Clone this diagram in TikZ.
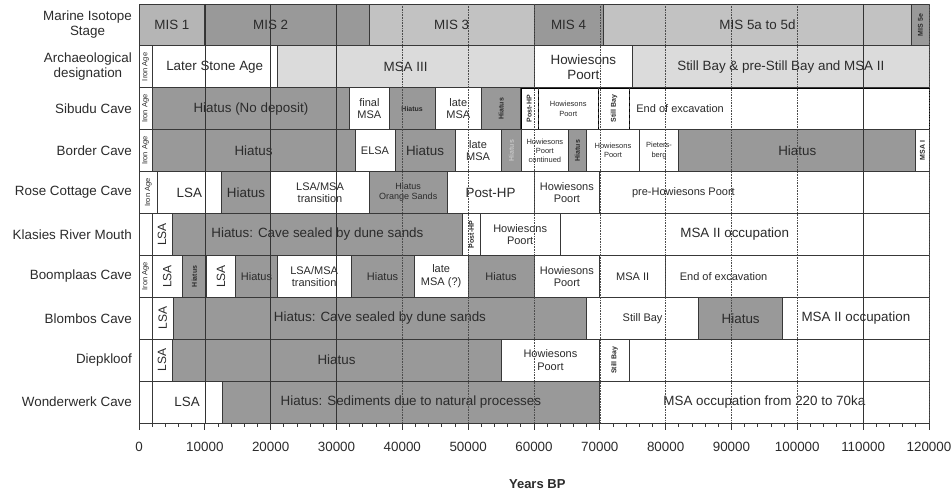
\documentclass[tikz,border=0pt]{standalone}
\usepackage{fontspec}
\setmainfont{Liberation Sans}
\usepackage{xcolor}
\usepackage{tikz}

\definecolor{txt}{gray}{0.17}
\definecolor{brd}{gray}{0.22}
\definecolor{hia}{gray}{0.6}
\definecolor{misA}{gray}{0.71}
\definecolor{misB}{gray}{0.6}
\definecolor{misC}{gray}{0.76}
\definecolor{arch}{gray}{0.86}

\begin{document}
\begin{tikzpicture}[x=6.583pt, y=-41.9pt,
    every node/.style={text=txt, inner sep=1pt, align=center},
    wcell/.style={draw=brd, line width=0.8pt, fill=white},
    hcell/.style={wcell, fill=hia},
    mis1/.style={wcell, fill=misA},
    mis2/.style={wcell, fill=misB},
    mis3/.style={wcell, fill=misC},
    acell/.style={wcell, fill=arch},
    ocell/.style={fill=white},
    lg/.style={font=\fontsize{13.4}{15}\selectfont},
    md/.style={font=\fontsize{11}{12.5}\selectfont},
    sm/.style={font=\fontsize{9}{10}\selectfont},
    xs/.style={font=\fontsize{7.5}{9.3}\selectfont},
    xb/.style={font=\fontsize{7}{7.5}\selectfont\bfseries},
    ri/.style={rotate=90, font=\fontsize{7.5}{8}\selectfont},
    rb/.style={rotate=90, xb},
    rg/.style={rb, text=gray!45},
    rl/.style={rotate=90, font=\fontsize{12}{13}\selectfont},
    rowlab/.style={lg, anchor=east, inner sep=0pt}]
    \useasboundingbox (-139pt,4pt) rectangle (812pt,-491pt);

    \foreach \r/\a/\b/\f/\s/\lab [count=\i] in {
        0/0/10/mis1/lg/{MIS 1}, 0/10/30/mis2/lg/{MIS 2}, 0/30/35/mis2/lg/{},
        0/35/60/mis3/lg/{MIS 3}, 0/60/70.5/mis2/lg/{MIS 4},
        0/70.5/117.4/mis3/lg/{MIS 5a to 5d}, 0/117.4/120/mis2/rb/{MIS 5e},
        1/0/2/wcell/ri/{Iron Age}, 1/2/21/wcell/lg/{Later Stone Age},
        1/21/60/acell/lg/{MSA III}, 1/60/75/wcell/lg/{Howiesons\\Poort},
        1/75/120/acell/lg/{Still Bay \& pre-Still Bay and MSA II},
        2/0/2/wcell/ri/{Iron Age}, 2/2/32/hcell/lg/{Hiatus (No deposit)},
        2/32/38/wcell/md/{final\\MSA}, 2/38/45/hcell/xb/{Hiatus},
        2/45/52/wcell/md/{late\\MSA}, 2/52/58/hcell/rb/{Hiatus},
        2/58/60.6/ocell/rb/{Post-HP}, 2/60.6/69.8/ocell/xs/{Howiesons\\Poort},
        2/69.8/74.5/ocell/rb/{Still Bay}, 2/74.5/120/ocell/md/{},
        3/0/2/wcell/ri/{Iron Age}, 3/2/32.8/hcell/lg/{Hiatus},
        3/32.8/38.9/wcell/md/{ELSA}, 3/38.9/48/hcell/lg/{Hiatus},
        3/48/55/wcell/md/{late\\MSA}, 3/55/58.1/hcell/rg/{Hiatus},
        3/58.1/65.2/wcell/xs/{Howiesons\\Poort\\continued},
        3/65.2/68/hcell/rb/{Hiatus}, 3/68/76/wcell/xs/{Howiesons\\Poort},
        3/76/82/wcell/xs/{Pieters-\\berg}, 3/82/118/hcell/lg/{Hiatus},
        3/118/120/wcell/rb/{MSA I},
        4/0/2.8/wcell/ri/{Iron Age}, 4/2.8/12.5/wcell/lg/{LSA},
        4/12.5/20/hcell/lg/{Hiatus}, 4/20/35/wcell/md/{LSA/MSA\\transition},
        4/35/46.8/hcell/sm/{Hiatus\\Orange Sands}, 4/46.8/60/wcell/lg/{Post-HP},
        4/60/70/wcell/md/{Howiesons\\Poort}, 4/70/120/wcell/md/{},
        5/0/2/wcell/lg/{}, 5/2/5/wcell/rl/{LSA},
        5/5/49.2/hcell/lg/{Hiatus: Cave sealed by dune sands},
        5/49.2/51.8/wcell/rb/{Post-HP}, 5/51.8/64/wcell/md/{Howiesons\\Poort},
        5/64/120/wcell/lg/{},
        6/0/2/wcell/ri/{Iron Age}, 6/2/6.6/wcell/rl/{LSA},
        6/6.6/10.2/hcell/rb/{Hiatus}, 6/10.2/14.7/wcell/rl/{LSA},
        6/14.7/21/hcell/md/{Hiatus}, 6/21/32.2/wcell/md/{LSA/MSA\\transition},
        6/32.2/41.8/hcell/md/{Hiatus}, 6/41.8/50/wcell/md/{late\\MSA (?)},
        6/50/60/hcell/md/{Hiatus}, 6/60/70/wcell/md/{Howiesons\\Poort},
        6/70/80/wcell/md/{MSA II}, 6/80/120/wcell/md/{},
        7/0/2/wcell/lg/{}, 7/2/5.2/wcell/rl/{LSA},
        7/5.2/68/hcell/lg/{Hiatus: Cave sealed by dune sands},
        7/68/85/wcell/md/{Still Bay}, 7/85/97.8/hcell/lg/{Hiatus},
        7/97.8/120/wcell/lg/{MSA II occupation},
        8/0/2/wcell/lg/{}, 8/2/5/wcell/rl/{LSA}, 8/5/55/hcell/lg/{Hiatus},
        8/55/70/wcell/md/{Howiesons\\Poort}, 8/70/74.5/wcell/rb/{Still Bay},
        8/74.5/120/wcell/lg/{},
        9/0/2/wcell/lg/{}, 9/2/12.6/wcell/lg/{LSA},
        9/12.6/70/hcell/lg/{Hiatus: Sediments due to natural processes},
        9/70/120/wcell/lg/{MSA occupation from 220 to 70ka}}
    {
        \draw[\f] (\a,\r) rectangle (\b,\r+1);
        \node[\s] (c\i) at ({(\a+\b)/2},\r+0.5) {\lab};
    }

    \node[md] (sibend) at (82.2,2.5) {End of excavation};
    \node[md] (rosepre) at (82.7,4.5) {pre-Howiesons Poort};
    \node[lg] (kmsa) at (90.5,5.5) {MSA II occupation};
    \node[md] (boomend) at (88.8,6.5) {End of excavation};

    \foreach \x in {60.6,69.8,74.5}
        \draw[brd, line width=0.8pt, dashed] (\x,2) -- (\x,3);

    \foreach \x in {10,20,30,110}
        \draw[gray!40!black, line width=0.6pt] (\x,0) -- (\x,10);
    \foreach \x in {40,50,...,100,120}
        \draw[gray!60!black, line width=0.6pt, densely dotted] (\x,0) -- (\x,10);

    \foreach \lab [count=\i from 0] in {{Marine Isotope\\Stage}, {Archaeological\\designation},
        Sibudu Cave, Border Cave, Rose Cottage Cave, Klasies River Mouth,
        Boomplaas Cave, Blombos Cave, Diepkloof, Wonderwerk Cave}
        \node[rowlab] (row\i) at (-1.05,\i+0.5) {\lab};

    \draw[brd, line width=0.8pt] (0,10) -- (120,10);
    \foreach \x in {0,2,...,120}
        \draw[brd, line width=0.8pt] (\x,10) -- (\x,10.1);
    \foreach \x in {0,10,...,120}
        \draw[brd, line width=0.8pt] (\x,10) -- (\x,10.16);
    \foreach \l [count=\i from 0] in {0,10000,20000,30000,40000,50000,60000,
        70000,80000,90000,100000,110000,120000}
        \node[lg] (tick\i) at (10*\i,10.57) {\l};
    \node[lg, font=\fontsize{13}{15}\selectfont\bfseries] (years) at (60.5,11.45) {Years BP};
\end{tikzpicture}
\end{document}
